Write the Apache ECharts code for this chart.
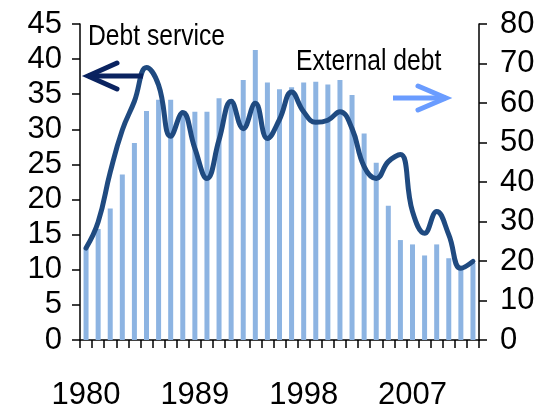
<!DOCTYPE html>
<html>
<head>
<meta charset="utf-8">
<script src="https://cdn.jsdelivr.net/npm/echarts@6/dist/echarts.min.js"></script>
<style>
  html, body { margin: 0; padding: 0; background: #fff; }
  #chart { width: 543px; height: 412px; }
</style>
</head>
<body>
<div id="chart"></div>
<script>
// Years on the horizontal axis
const years = [];
for (let y = 1980; y <= 2012; y++) years.push(String(y));

// Debt service (left axis), smoothed line
const debtService = [
  13.1, 16.8, 23.9, 29.9, 34.0, 38.8, 36.3, 29.0, 32.4, 27.3, 23.0,
  28.5, 34.0, 30.1, 33.7, 28.7, 31.4, 35.3, 32.5, 31.0, 31.3, 32.5,
  30.1, 24.7, 23.0, 25.4, 26.4, 18.3, 15.2, 18.3, 15.0, 10.2, 11.2
];

// External debt (right axis), bars
const externalDebt = [
  23.2, 28.1, 33.3, 41.9, 49.9, 58.0, 60.8, 60.8, 58.0, 57.8, 57.8,
  61.2, 61.0, 65.8, 73.4, 65.2, 63.5, 64.0, 65.2, 65.4, 64.7, 65.8,
  62.0, 52.3, 44.9, 34.0, 25.3, 24.2, 21.4, 24.2, 20.7, 18.0, 19.5
];

const FONT = "'Liberation Sans', Arial, sans-serif";

const chart = echarts.init(document.getElementById('chart'));

const axisLine = { show: true, lineStyle: { color: '#000', width: 1.5 } };
const axisTick = { show: true, length: 8, lineStyle: { color: '#000', width: 1.5 } };

chart.setOption({
  animation: false,
  backgroundColor: '#fff',
  grid: { left: 80, right: 64, top: 24, bottom: 72 },
  xAxis: {
    type: 'category',
    data: years,
    boundaryGap: true,
    axisLine: axisLine,
    axisTick: Object.assign({ interval: 0 }, axisTick),
    axisLabel: {
      interval: 8,
      margin: 40,
      color: '#000',
      fontFamily: FONT,
      fontSize: 31
    },
    splitLine: { show: false }
  },
  yAxis: [
    {
      type: 'value',
      min: 0, max: 45, interval: 5,
      position: 'left',
      axisLine: axisLine,
      axisTick: axisTick,
      axisLabel: { margin: 18, color: '#000', fontFamily: FONT, fontSize: 31 },
      splitLine: { show: false }
    },
    {
      type: 'value',
      min: 0, max: 80, interval: 10,
      position: 'right',
      axisLine: axisLine,
      axisTick: axisTick,
      axisLabel: { margin: 21, color: '#000', fontFamily: FONT, fontSize: 31 },
      splitLine: { show: false }
    }
  ],
  series: [
    {
      name: 'External debt',
      type: 'bar',
      yAxisIndex: 1,
      data: externalDebt,
      barWidth: 5,
      itemStyle: { color: '#8DB4E2' },
      z: 1
    },
    {
      name: 'Debt service',
      type: 'line',
      yAxisIndex: 0,
      data: debtService,
      smooth: 0.45,
      showSymbol: false,
      symbol: 'none',
      lineStyle: { color: '#1F4A80', width: 5, cap: 'round', join: 'round' },
      z: 3
    }
  ],
  graphic: [
    // cut-off title text above the plot
    {
      type: 'text', x: 327, y: -33, silent: true,
      style: { text: 'y', fontFamily: FONT, fontSize: 34, fontStyle: 'italic', fill: '#000' }
    },
    // series annotations, set in a condensed face
    {
      type: 'text', x: 88, y: 22, scaleX: 0.85, silent: true,
      style: { text: 'Debt service', fontFamily: FONT, fontSize: 29, fill: '#000' }
    },
    {
      type: 'text', x: 296, y: 47, scaleX: 0.85, silent: true,
      style: { text: 'External debt', fontFamily: FONT, fontSize: 29, fill: '#000' }
    },
    // arrow pointing to the left axis
    {
      type: 'polyline', silent: true, z: 10,
      shape: { points: [[143, 76], [88, 76]] },
      style: { stroke: '#0A2360', lineWidth: 5, fill: null }
    },
    {
      type: 'polyline', silent: true, z: 10,
      shape: { points: [[117, 63], [88, 76], [117, 89]] },
      style: { stroke: '#0A2360', lineWidth: 5, fill: null, lineCap: 'round', lineJoin: 'miter' }
    },
    // arrow pointing to the right axis
    {
      type: 'polyline', silent: true, z: 10,
      shape: { points: [[393, 98], [446, 98]] },
      style: { stroke: '#6A9CFF', lineWidth: 5, fill: null }
    },
    {
      type: 'polyline', silent: true, z: 10,
      shape: { points: [[418, 86], [446, 98], [418, 110]] },
      style: { stroke: '#6A9CFF', lineWidth: 5, fill: null, lineCap: 'round', lineJoin: 'miter' }
    }
  ]
});
</script>
</body>
</html>
